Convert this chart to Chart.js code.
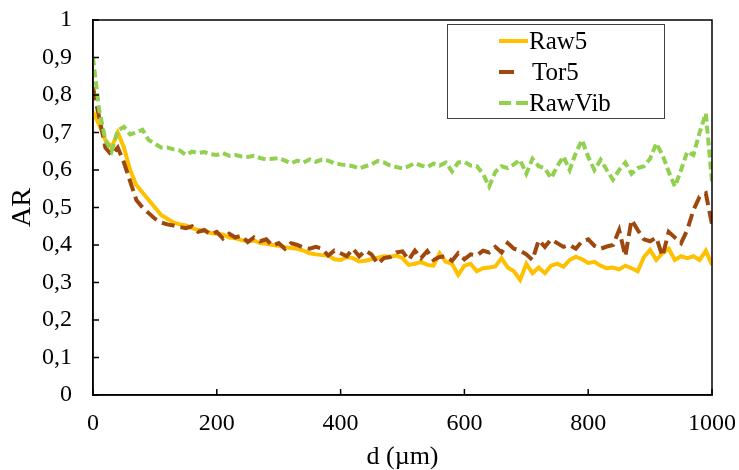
<!DOCTYPE html>
<html>
<head>
<meta charset="utf-8">
<script src="https://cdn.jsdelivr.net/npm/chart.js@4.4.1/dist/chart.umd.min.js"></script>
<style>
  html, body { margin: 0; padding: 0; background: #fff; }
</style>
</head>
<body>
<canvas id="arChart" width="739" height="470"></canvas>
<script>
// distance in µm
const distances = [
  0, 10, 20, 30, 40, 50, 60, 70, 80, 90,
  100, 110, 120, 130, 140, 150, 160, 170, 180, 190,
  200, 210, 220, 230, 240, 250, 260, 270, 280, 290,
  300, 310, 320, 330, 340, 350, 360, 370, 380, 390,
  400, 410, 420, 430, 440, 450, 460, 470, 480, 490,
  500, 510, 520, 530, 540, 550, 560, 570, 580, 590,
  600, 610, 620, 630, 640, 650, 660, 670, 680, 690,
  700, 710, 720, 730, 740, 750, 760, 770, 780, 790,
  800, 810, 820, 830, 840, 850, 860, 870, 880, 890,
  900, 910, 920, 930, 940, 950, 960, 970, 980, 990,
  1000
];

const raw5 = [
  0.755, 0.72, 0.68, 0.66, 0.70, 0.66, 0.60, 0.56, 0.54, 0.52,
  0.50, 0.48, 0.47, 0.46, 0.455, 0.452, 0.445, 0.44, 0.438, 0.432,
  0.43, 0.428, 0.42, 0.418, 0.413, 0.41, 0.412, 0.405, 0.403, 0.40,
  0.398, 0.394, 0.392, 0.39, 0.385, 0.378, 0.375, 0.373, 0.372, 0.362,
  0.36, 0.368, 0.365, 0.356, 0.358, 0.362, 0.366, 0.37, 0.369, 0.372,
  0.365, 0.347, 0.35, 0.355, 0.347, 0.345, 0.378, 0.355, 0.35, 0.32,
  0.345, 0.35, 0.33, 0.338, 0.34, 0.343, 0.365, 0.34, 0.33, 0.307,
  0.35, 0.325, 0.34, 0.325, 0.345, 0.35, 0.342, 0.36, 0.369, 0.362,
  0.352, 0.355, 0.345, 0.338, 0.34, 0.335, 0.345, 0.338, 0.33, 0.368,
  0.387, 0.36, 0.378, 0.39, 0.36, 0.37, 0.365, 0.37, 0.36, 0.385,
  0.347
];

const tor5 = [
  0.82, 0.74, 0.66, 0.64, 0.66, 0.62, 0.57, 0.52, 0.50, 0.485,
  0.47, 0.46, 0.455, 0.452, 0.448, 0.445, 0.45, 0.435, 0.44, 0.428,
  0.435, 0.417, 0.43, 0.42, 0.425, 0.408, 0.42, 0.41, 0.415, 0.398,
  0.405, 0.39, 0.405, 0.40, 0.393, 0.39, 0.395, 0.39, 0.372, 0.385,
  0.378, 0.37, 0.39, 0.37, 0.385, 0.375, 0.35, 0.365, 0.368, 0.38,
  0.383, 0.36, 0.385, 0.365, 0.384, 0.36, 0.368, 0.37, 0.358, 0.378,
  0.362, 0.375, 0.372, 0.385, 0.38, 0.395, 0.38, 0.405, 0.39, 0.385,
  0.375, 0.36, 0.413, 0.395, 0.415, 0.405, 0.395, 0.40, 0.39, 0.41,
  0.415, 0.398, 0.39, 0.396, 0.40, 0.44, 0.37, 0.467, 0.44, 0.415,
  0.41, 0.42, 0.37, 0.435, 0.42, 0.405, 0.44, 0.493, 0.529, 0.538,
  0.455
];

const rawVib = [
  0.90, 0.76, 0.68, 0.65, 0.705, 0.715, 0.695, 0.70, 0.707, 0.68,
  0.67, 0.66, 0.66, 0.655, 0.652, 0.64, 0.649, 0.645, 0.648, 0.642,
  0.64, 0.645, 0.638, 0.64, 0.636, 0.635, 0.638, 0.632, 0.628, 0.63,
  0.632, 0.625, 0.618, 0.625, 0.62, 0.628, 0.622, 0.628, 0.625, 0.618,
  0.615, 0.613, 0.61, 0.604, 0.61, 0.615, 0.624, 0.62, 0.612, 0.608,
  0.604, 0.61, 0.618, 0.612, 0.608, 0.617, 0.612, 0.62, 0.596, 0.62,
  0.622, 0.612, 0.61, 0.59, 0.556, 0.595, 0.61, 0.605, 0.615, 0.627,
  0.59, 0.63, 0.61, 0.605, 0.578, 0.61, 0.636, 0.60, 0.645, 0.68,
  0.635, 0.60, 0.627, 0.60, 0.574, 0.60, 0.62, 0.59, 0.605, 0.61,
  0.63, 0.671, 0.64, 0.596, 0.556, 0.60, 0.649, 0.64, 0.70, 0.751,
  0.569
];

const seriesNames = ['Raw5', 'Tor5', 'RawVib'];
const xTicks = [0, 200, 400, 600, 800, 1000];
const yTicks = [0, 0.1, 0.2, 0.3, 0.4, 0.5, 0.6, 0.7, 0.8, 0.9, 1];

const serif = 'Liberation Serif';

function toPoints(values) {
  return values.map((v, i) => ({ x: distances[i], y: v }));
}

// frame round the plot and ticks pointing inwards
const frameAndTicks = {
  id: 'frameAndTicks',
  afterDatasetsDraw(chart) {
    const { ctx, chartArea: a, scales } = chart;
    ctx.save();
    ctx.strokeStyle = '#000';
    ctx.lineWidth = 1.5;
    ctx.strokeRect(a.left, a.top, a.right - a.left, a.bottom - a.top);
    ctx.beginPath();
    yTicks.forEach(v => {
      const y = scales.y.getPixelForValue(v);
      ctx.moveTo(a.left, y);
      ctx.lineTo(a.left + 6, y);
    });
    xTicks.forEach(v => {
      const x = scales.x.getPixelForValue(v);
      ctx.moveTo(x, a.bottom);
      ctx.lineTo(x, a.bottom - 6);
    });
    ctx.stroke();
    ctx.restore();
  }
};

// legend box in the upper right corner
const legendBox = {
  id: 'legendBox',
  afterDraw(chart) {
    const ctx = chart.ctx;
    const sets = chart.data.datasets;
    const rows = [41, 72, 103];
    const textX = [529, 532, 529];
    ctx.save();
    ctx.fillStyle = '#fff';
    ctx.fillRect(447, 24, 218, 95);
    ctx.strokeStyle = '#404040';
    ctx.lineWidth = 1;
    ctx.strokeRect(447.5, 24.5, 217, 94);
    sets.forEach((ds, i) => {
      const y = rows[i];
      ctx.strokeStyle = ds.borderColor;
      ctx.lineWidth = 4;
      ctx.beginPath();
      if (i === 0) {
        ctx.moveTo(499, y); ctx.lineTo(528, y);
      } else if (i === 1) {
        ctx.moveTo(499, y); ctx.lineTo(514, y);
      } else {
        ctx.moveTo(499, y); ctx.lineTo(511, y);
        ctx.moveTo(516, y); ctx.lineTo(528, y);
      }
      ctx.stroke();
      ctx.fillStyle = '#000';
      ctx.font = '25px "' + serif + '"';
      ctx.textBaseline = 'middle';
      ctx.fillText(ds.label, textX[i], y + 1);
    });
    ctx.restore();
  }
};

const ctx = document.getElementById('arChart');
const arChart = new Chart(ctx, {
  type: 'line',
  data: {
    datasets: [
      {
        label: seriesNames[0],
        data: toPoints(raw5),
        borderColor: '#FFC000',
        borderWidth: 4,
        order: 3
      },
      {
        label: seriesNames[1],
        data: toPoints(tor5),
        borderColor: '#9E480E',
        borderWidth: 4,
        borderDash: [13, 6],
        order: 2
      },
      {
        label: seriesNames[2],
        data: toPoints(rawVib),
        borderColor: '#92D050',
        borderWidth: 4,
        borderDash: [8, 4],
        order: 1
      }
    ]
  },
  options: {
    responsive: false,
    animation: false,
    layout: { padding: { top: 20, right: 27, left: 0, bottom: 0 } },
    elements: {
      point: { radius: 0 },
      line: { tension: 0, borderCapStyle: 'butt' }
    },
    scales: {
      x: {
        type: 'linear',
        min: 0,
        max: 1000,
        afterBuildTicks: scale => { scale.ticks = xTicks.map(v => ({ value: v })); },
        afterFit: scale => {
          scale.height = 75;
          scale.paddingLeft = 0;
          scale.paddingRight = 0;
        },
        grid: { display: false, drawTicks: false },
        border: { display: true, color: '#000', width: 1.5 },
        ticks: {
          color: '#000',
          padding: 14,
          maxRotation: 0,
          font: { family: serif, size: 24 },
          callback: v => String(v)
        },
        title: {
          display: true,
          text: 'd (µm)',
          color: '#000',
          padding: { top: 0, bottom: 0 },
          font: { family: serif, size: 26, lineHeight: 1 }
        }
      },
      y: {
        min: 0,
        max: 1,
        afterBuildTicks: scale => { scale.ticks = yTicks.map(v => ({ value: v })); },
        afterFit: scale => {
          scale.width = 93;
          scale.paddingTop = 0;
          scale.paddingBottom = 0;
        },
        grid: { display: false, drawTicks: false },
        border: { display: true, color: '#000', width: 1.5 },
        ticks: {
          color: '#000',
          padding: 21,
          font: { family: serif, size: 24 },
          callback: v => String(Math.round(v * 10) / 10).replace('.', ',')
        },
        title: {
          display: true,
          text: 'AR',
          color: '#000',
          padding: { top: 6, bottom: 0 },
          font: { family: serif, size: 28 }
        }
      }
    },
    plugins: {
      legend: { display: false },
      tooltip: { enabled: false }
    }
  },
  plugins: [frameAndTicks, legendBox]
});
</script>
</body>
</html>
